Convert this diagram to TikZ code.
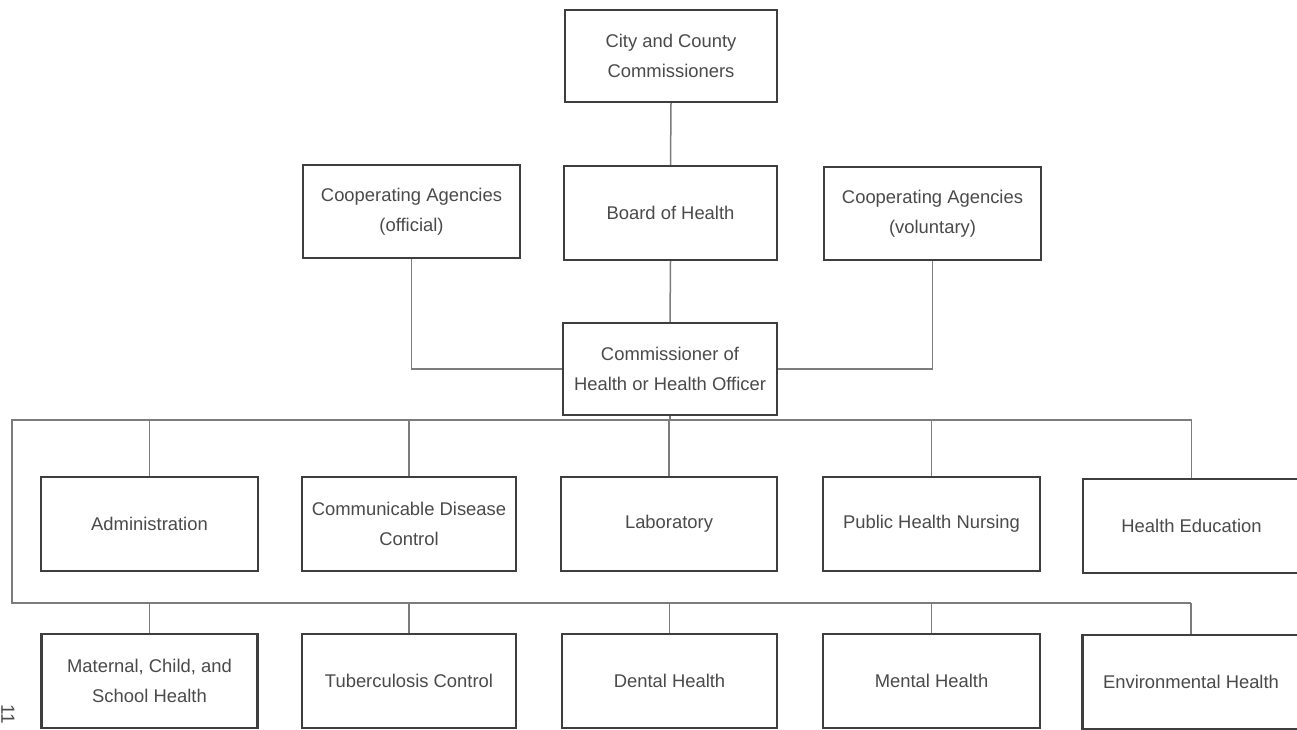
\documentclass[tikz,border=0pt]{standalone}
\usepackage{fontspec}
\setmainfont{Liberation Sans}
\definecolor{boxc}{HTML}{3E3E3E}
\definecolor{linec}{HTML}{7C7C7C}
\definecolor{txtc}{HTML}{4A4A4A}
\begin{document}
\begin{tikzpicture}[x=1pt,y=-1pt,
  box/.style={draw=boxc,line width=2.2pt,rectangle,align=center,inner sep=0pt,
    text=txtc,font=\fontsize{18.4}{30}\selectfont},
  conn/.style={draw=linec,line width=1.5pt},
  pagenum/.style={text=txtc,font=\fontsize{19}{20}\selectfont,inner sep=0pt}]
\useasboundingbox[fill=white] (0,0) rectangle (1297,729);

% top part
\node[box,minimum width=212pt,minimum height=92pt] (city) at (671,56) {City and County\\Commissioners};
\node[box,minimum width=213pt,minimum height=94pt] (board) at (670.5,213) {Board of Health};
\node[box,minimum width=217pt,minimum height=93pt] (offl) at (411.5,211.5) {Cooperating Agencies\\(official)};
\node[box,minimum width=217pt,minimum height=93pt] (vol) at (932.5,213.5) {Cooperating Agencies\\(voluntary)};
\node[box,minimum width=214pt,minimum height=92pt] (comm) at (670,369) {Commissioner of\\Health or Health Officer};

% first row
\node[box,minimum width=217pt,minimum height=94pt] (adm) at (149.5,524) {Administration};
\node[box,minimum width=214pt,minimum height=94pt] (cdc) at (409,524) {Communicable Disease\\Control};
\node[box,minimum width=216pt,minimum height=94pt] (lab) at (669,524) {Laboratory};
\node[box,minimum width=217pt,minimum height=94pt] (phn) at (931.5,524) {Public Health Nursing};
\node[box,minimum width=217pt,minimum height=94pt] (hed) at (1191.5,526) {Health Education};

% second row
\node[box,minimum width=216pt,minimum height=94pt] (mch) at (149.5,681) {Maternal, Child, and\\School Health};
\node[box,minimum width=214pt,minimum height=94pt] (tb) at (409,681) {Tuberculosis Control};
\node[box,minimum width=215pt,minimum height=94pt] (den) at (669.5,681) {Dental Health};
\node[box,minimum width=217pt,minimum height=94pt] (men) at (931.5,681) {Mental Health};
\node[box,minimum width=217pt,minimum height=94pt] (env) at (1191,682) {Environmental Health};

% bus coordinates
\coordinate (busTL) at (12,420);
\coordinate (busBL) at (12,603);
\coordinate (busTR) at (hed.north |- busTL);
\coordinate (busBR) at (env.north |- busBL);

% connectors
\draw[conn] (city.south) -- (board.north);
\draw[conn] (board.south) -- (comm.north);
\draw[conn] (offl.south) -- (offl.south |- comm.west) -- (comm.west);
\draw[conn] (vol.south) -- (vol.south |- comm.east) -- (comm.east);
\draw[conn] (comm.south) -- (comm.south |- busTL);
\draw[conn] (busTR) -- (busTL) -- (busBL) -- (busBR);
\foreach \n in {adm,cdc,lab,phn,hed}{
  \draw[conn] (\n.north) -- (\n.north |- busTL);
}
\foreach \n in {mch,tb,den,men,env}{
  \draw[conn] (\n.north) -- (\n.north |- busBL);
}

% page number
\node[pagenum,rotate=-90] (pg) at (8,714) {11};
\end{tikzpicture}
\end{document}
